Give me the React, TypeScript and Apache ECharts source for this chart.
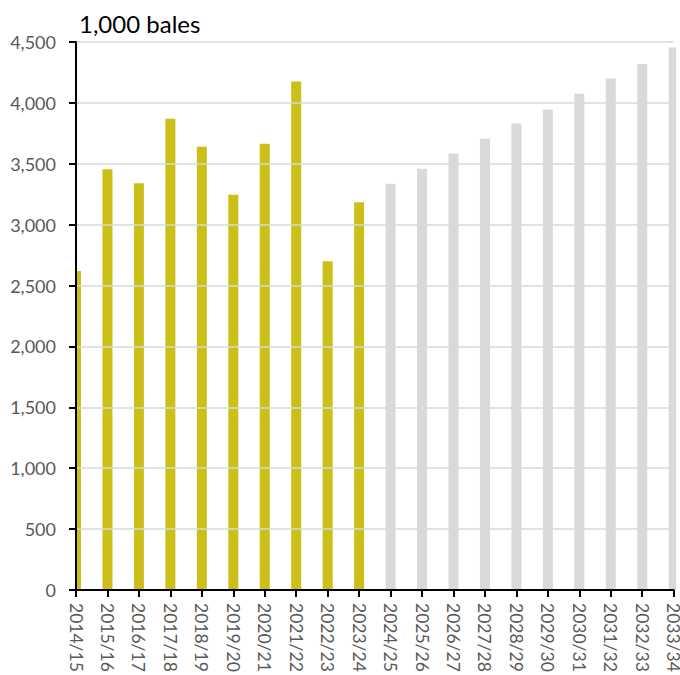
import React, { useEffect, useRef } from "react";
import * as echarts from "echarts";

const categories = [
  "2014/15", "2015/16", "2016/17", "2017/18", "2018/19", "2019/20", "2020/21",
  "2021/22", "2022/23", "2023/24", "2024/25", "2025/26", "2026/27", "2027/28",
  "2028/29", "2029/30", "2030/31", "2031/32", "2032/33", "2033/34",
];

// Historical (gold) values, 1,000 bales
const historical = [2620, 3455, 3340, 3870, 3640, 3245, 3665, 4175, 2700, 3185];

// Projected (grey) values, 1,000 bales
const projected = [3335, 3460, 3585, 3705, 3830, 3945, 4075, 4200, 4320, 4455];

const unitLabel = "1,000 bales";

const GOLD = "#CDBF1A";
const GREY = "#D9D9D9";
const FONT = "Lato, 'Open Sans', sans-serif";
const BAR_W = 10;

function makeRenderItem(color: string) {
  return (params: any, api: any) => {
    const idx = api.value(0);
    const val = api.value(1);
    const top = api.coord([idx, val]);
    const base = api.coord([idx, 0]);
    const cs = params.coordSys;
    const rect = {
      x: top[0] - BAR_W / 2,
      y: top[1],
      width: BAR_W,
      height: base[1] - top[1],
    };
    const clipped = echarts.graphic.clipRectByRect(rect, {
      x: cs.x + 1,
      y: cs.y,
      width: cs.width + 1.5,
      height: cs.height,
    });
    if (!clipped) return null;
    return {
      type: "rect",
      shape: clipped,
      style: { fill: color },
    };
  };
}

export default function App() {
  const ref = useRef<HTMLDivElement>(null);

  useEffect(() => {
    if (!ref.current) return;
    const chart = echarts.init(ref.current, undefined, { renderer: "svg" });

    const histData = historical.map((v, i) => [i, v]);
    const projData = projected.map((v, i) => [i + historical.length, v]);

    chart.setOption({
      animation: false,
      backgroundColor: "#ffffff",
      title: {
        text: unitLabel,
        left: 74,
        top: 6,
        textStyle: { fontFamily: FONT, fontSize: 24, fontWeight: "normal", color: "#000000" },
      },
      grid: {
        left: 76,
        right: 6.3,
        top: 42,
        bottom: 85,
        containLabel: false,
        outerBoundsMode: "none",
      },
      xAxis: {
        type: "category",
        data: categories,
        boundaryGap: false,
        z: 5,
        axisLine: { show: true, lineStyle: { color: "#000000", width: 2 } },
        axisTick: { show: true, length: 7, alignWithLabel: true, interval: 0, lineStyle: { color: "#000000", width: 2 } },
        axisLabel: {
          interval: 0,
          rotate: -90,
          margin: 13,
          color: "#595959",
          fontFamily: FONT,
          fontSize: 17.5,
          hideOverlap: false,
        },
        splitLine: { show: false },
      },
      yAxis: {
        type: "value",
        min: 0,
        max: 4500,
        interval: 500,
        z: 5,
        axisLine: { show: true, lineStyle: { color: "#000000", width: 2 } },
        axisTick: { show: true, length: 7, lineStyle: { color: "#000000", width: 2 } },
        axisLabel: {
          margin: 20,
          color: "#595959",
          fontFamily: FONT,
          fontSize: 18,
          formatter: (v: number) => v.toLocaleString("en-US"),
        },
        splitLine: { show: true, lineStyle: { color: GREY, width: 1.5 } },
      },
      series: [
        {
          name: "Historical",
          type: "custom",
          renderItem: makeRenderItem(GOLD),
          data: histData,
          encode: { x: 0, y: 1 },
          clip: false,
          z: 2,
        },
        {
          name: "Projected",
          type: "custom",
          renderItem: makeRenderItem(GREY),
          data: projData,
          encode: { x: 0, y: 1 },
          clip: false,
          z: 2,
        },
      ],
    });

    return () => chart.dispose();
  }, []);

  return (
    <div
      ref={ref}
      style={{ position: "fixed", left: 0, top: 0, width: 680, height: 675, background: "#fff" }}
    />
  );
}
